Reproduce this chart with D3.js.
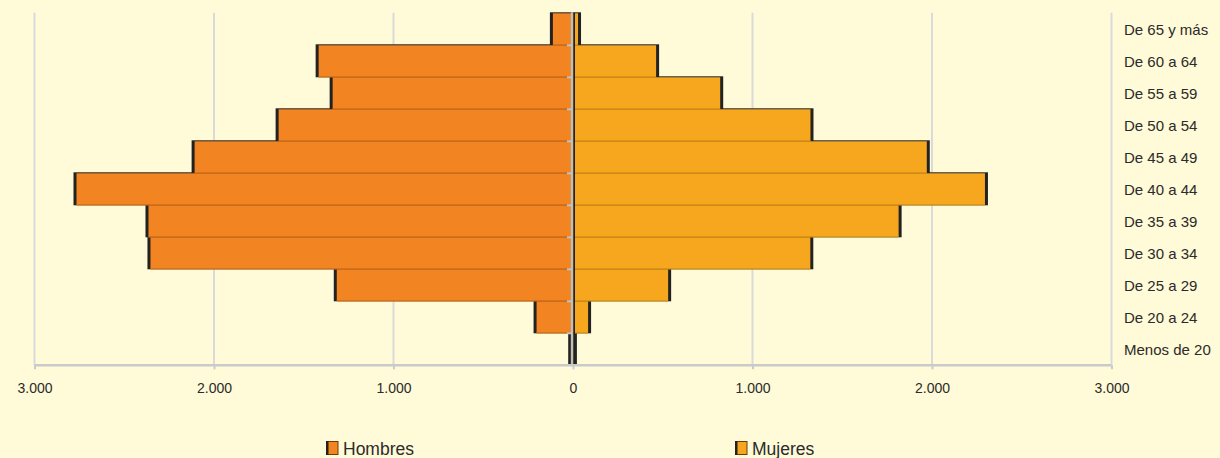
<!DOCTYPE html>
<html>
<head>
<meta charset="utf-8">
<script src="https://cdn.jsdelivr.net/npm/d3@7"></script>
<style>
	body{margin:0;background:#FFFAD7;overflow:hidden;}
	text{font-family:"Liberation Sans",Arial,sans-serif;fill:#2b2b2b;}
</style>
</head>
<body>
<script>
const grupos=['De 65 y más','De 60 a 64','De 55 a 59','De 50 a 54','De 45 a 49','De 40 a 44','De 35 a 39','De 30 a 34','De 25 a 29','De 20 a 24','Menos de 20']
const hombres=[112,1417,1339,1640,2108,2766,2365,2354,1316,203,10]
const mujeres=[28,463,820,1323,1971,2295,1814,1322,530,84,5]
const ticks=[-3000,-2000,-1000,0,1000,2000,3000]

const width=1220, height=458
const plotTop=13.3, plotBottom=365.3

let svg=d3.select('body').append('svg')
	.attr('width',width)
	.attr('height',height)

svg.append('rect')
	.attr('width',width)
	.attr('height',height)
	.attr('fill','#FFFAD7')

let xScale=d3.scaleLinear()
	.domain([-3000,3000])
	.range([34.5,1111.5])

let yScale=d3.scaleBand()
	.domain(grupos)
	.range([plotTop,plotBottom])
	.padding(0)

const bw=yScale.bandwidth()
const x0=xScale(0)

const es=d3.formatLocale({decimal:',',thousands:'.',grouping:[3],currency:['','']})
const fmt=es.format(',')

// vertical grid
svg.append('g')
	.selectAll('line')
	.data(ticks)
	.join('line')
	.attr('x1',d=>xScale(d))
	.attr('x2',d=>xScale(d))
	.attr('y1',plotTop-0.5)
	.attr('y2',plotBottom)
	.attr('stroke','#DADADA')
	.attr('stroke-width',2)

const datos=grupos.map((g,i)=>({g:g,h:hombres[i],m:mujeres[i]}))

// shadows behind the bars
svg.append('g')
	.attr('fill','#222222')
	.selectAll('rect')
	.data(datos)
	.join('rect')
	.attr('x',d=>xScale(-d.h)-3)
	.attr('y',d=>yScale(d.g)-1)
	.attr('width',d=>x0-xScale(-d.h)+3)
	.attr('height',bw+1)

svg.append('g')
	.attr('fill','#222222')
	.selectAll('rect')
	.data(datos)
	.join('rect')
	.attr('x',x0)
	.attr('y',d=>yScale(d.g)-1)
	.attr('width',d=>xScale(d.m)-x0+3)
	.attr('height',bw+1)

// bars
svg.append('g')
	.attr('fill','#F28421')
	.selectAll('rect')
	.data(datos)
	.join('rect')
	.attr('x',d=>xScale(-d.h))
	.attr('y',d=>yScale(d.g))
	.attr('width',d=>x0-xScale(-d.h))
	.attr('height',bw)

svg.append('g')
	.attr('fill','#F7A71E')
	.selectAll('rect')
	.data(datos)
	.join('rect')
	.attr('x',x0)
	.attr('y',d=>yScale(d.g))
	.attr('width',d=>xScale(d.m)-x0)
	.attr('height',bw)

// darker edge at the foot of each bar
svg.append('g')
	.attr('stroke','#C96B1A')
	.selectAll('line')
	.data(datos)
	.join('line')
	.attr('x1',d=>xScale(-d.h))
	.attr('x2',x0)
	.attr('y1',d=>yScale(d.g)+bw-0.5)
	.attr('y2',d=>yScale(d.g)+bw-0.5)

svg.append('g')
	.attr('stroke','#CF8A18')
	.selectAll('line')
	.data(datos)
	.join('line')
	.attr('x1',x0)
	.attr('x2',d=>xScale(d.m))
	.attr('y1',d=>yScale(d.g)+bw-0.5)
	.attr('y2',d=>yScale(d.g)+bw-0.5)

// centre axis
svg.append('rect')
	.attr('x',x0-2.2)
	.attr('y',plotTop-1)
	.attr('width',2.5)
	.attr('height',plotBottom-plotTop+1)
	.attr('fill','#BEBEBE')
svg.append('rect')
	.attr('x',x0+0.3)
	.attr('y',plotTop-0.5)
	.attr('width',1.7)
	.attr('height',plotBottom-plotTop)
	.attr('fill','#222222')

svg.append('g')
	.attr('stroke','#C4C4C4')
	.attr('stroke-width',2)
	.selectAll('line')
	.data(grupos.slice(1))
	.join('line')
	.attr('x1',x0-6)
	.attr('x2',x0-1)
	.attr('y1',d=>yScale(d))
	.attr('y2',d=>yScale(d))

// bottom axis
let xAxis=d3.axisBottom(xScale)
	.tickValues(ticks)
	.tickSize(4)
	.tickPadding(14)
	.tickFormat(d=>fmt(Math.abs(d)))

svg.append('g')
	.attr('class','x-axis')
	.attr('transform',`translate(0,${plotBottom})`)
	.call(xAxis)
	.call(g=>g.select('.domain').attr('stroke','#CACACA').attr('stroke-width',2.5).attr('d',`M${xScale(-3000)},0H${xScale(3000)}`))
	.call(g=>g.selectAll('.tick line').attr('stroke','#CACACA').attr('stroke-width',2))
	.call(g=>g.selectAll('.tick text').attr('font-size',14).attr('fill','#2b2b2b').attr('font-family','"Liberation Sans",Arial,sans-serif'))

// category labels
svg.append('g')
	.attr('font-size',15)
	.selectAll('text')
	.data(grupos)
	.join('text')
	.attr('x',1124)
	.attr('y',d=>yScale(d)+bw/2)
	.attr('dy','0.35em')
	.text(d=>d)

// legend
const legend=[{name:'Hombres',color:'#F28421',x:326},{name:'Mujeres',color:'#F7A71E',x:735}]

const lg=svg.append('g')
	.selectAll('g')
	.data(legend)
	.join('g')
	.attr('transform',d=>`translate(${d.x},441)`)

lg.append('rect')
	.attr('x',0.5)
	.attr('y',0.5)
	.attr('width',11.5)
	.attr('height',13)
	.attr('fill',d=>d.color)
	.attr('stroke','#6b3a10')
lg.append('rect')
	.attr('x',0)
	.attr('y',0)
	.attr('width',2.5)
	.attr('height',14)
	.attr('fill','#222222')
lg.append('text')
	.attr('x',17)
	.attr('y',13.5)
	.attr('font-size',17.5)
	.text(d=>d.name)
</script>
</body>
</html>
